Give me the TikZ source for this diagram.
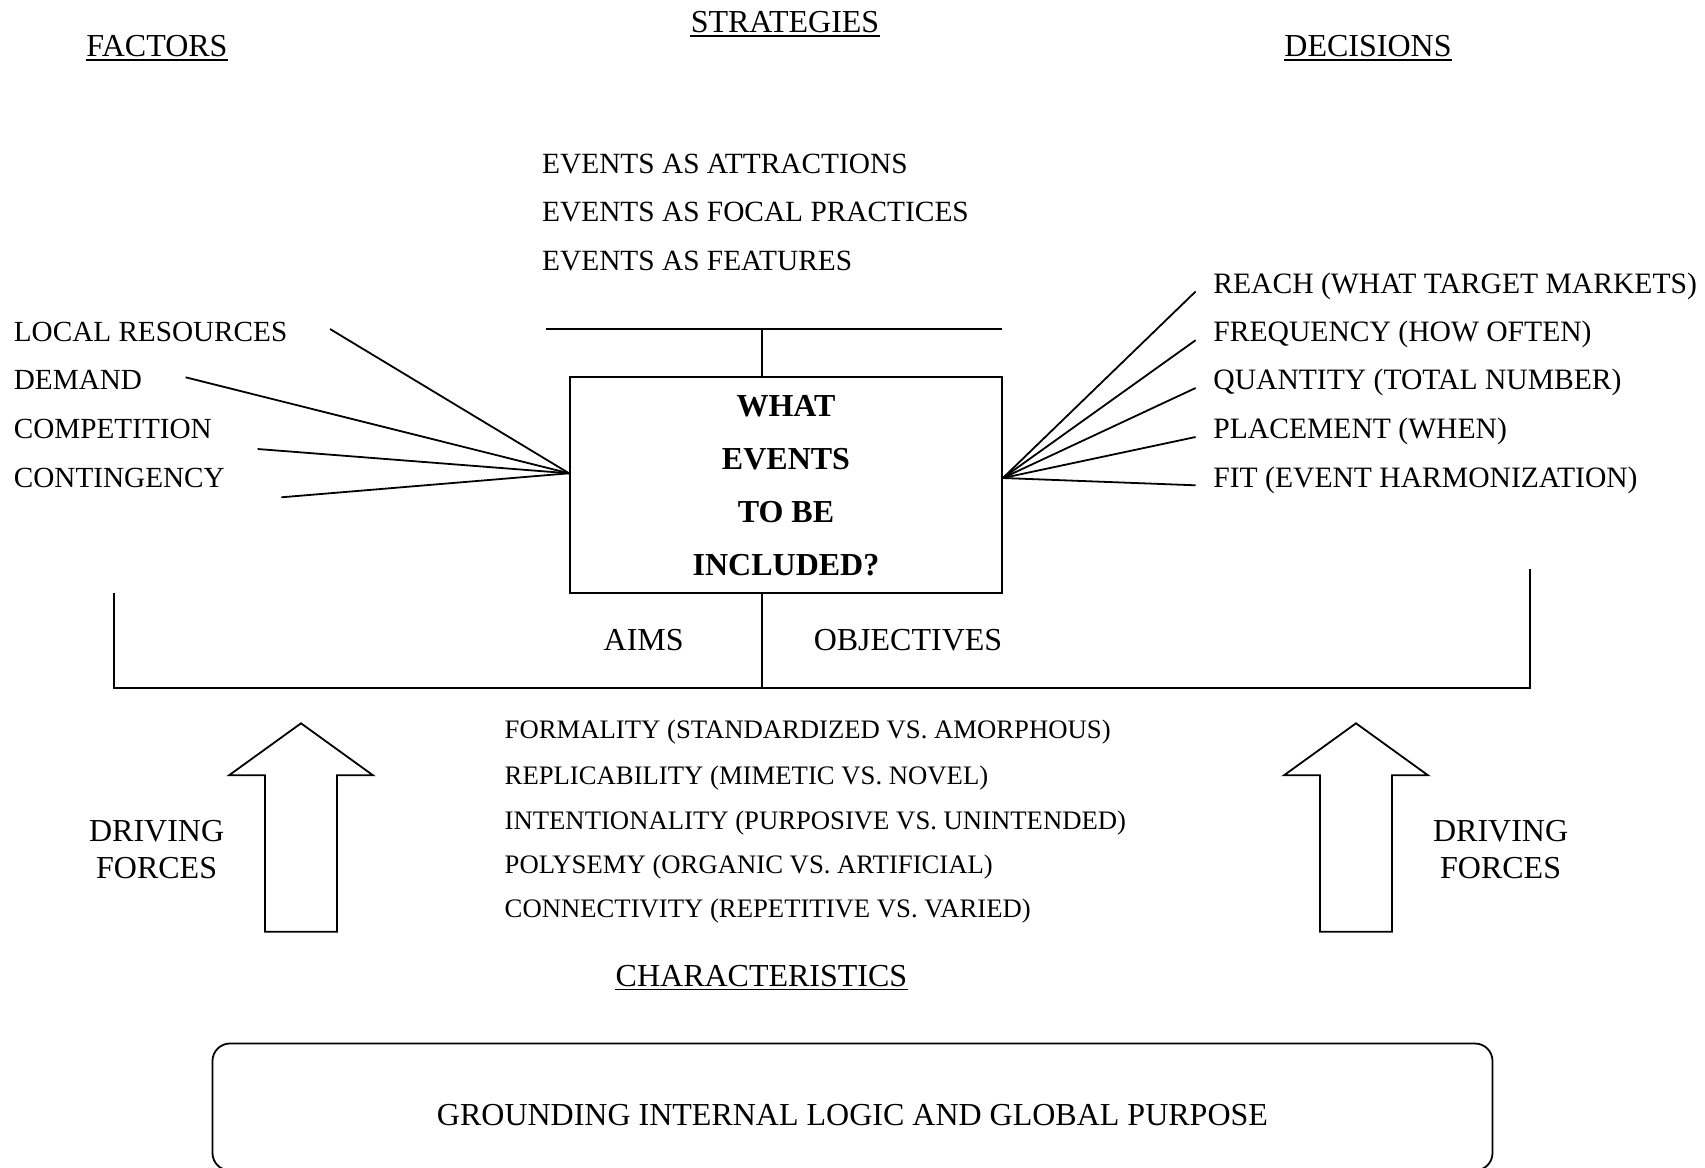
\documentclass[tikz,border=0pt]{standalone}
\usepackage{fontspec}
\setmainfont{Liberation Serif}
\usetikzlibrary{calc}

% underline drawn under a heading node
\newcommand{\headrule}[1]{\draw[rulewidth] ([yshift=-1.8pt]#1.base west) -- ([yshift=-1.8pt]#1.base east);}

\begin{document}
\begin{tikzpicture}[x=0.5pt,y=-0.5pt,line width=0.9pt,line join=miter,
  heading/.style={inner sep=0pt,anchor=base,font=\fontsize{16}{19}\selectfont},
  item/.style={inner sep=0pt,anchor=base west,font=\fontsize{14.6}{17}\selectfont},
  stratitem/.style={item,font=\fontsize{14.68}{17}\selectfont},
  wideitem/.style={item,font=\fontsize{14.8}{17}\selectfont},
  trait/.style={inner sep=0pt,anchor=base west,font=\fontsize{13.35}{16}\selectfont},
  centrebox/.style={draw,minimum width=216pt,minimum height=107.85pt,inner sep=0pt,
    align=center,font=\bfseries\fontsize{16}{26.5}\selectfont},
  groundbox/.style={draw,rounded corners=8.75pt,minimum width=640pt,minimum height=63.5pt,inner sep=0pt},
  rulewidth/.style={line width=0.85pt},
  pics/uparrow/.style={code={
    \draw (0,0) -- (72,52) -- (36,52) -- (36,208.5) -- (-36,208.5) -- (-36,52) -- (-72,52) -- cycle;}}
]
\useasboundingbox (0,0) rectangle (1705,1168);
\fill[white] (0,0) rectangle (1705,1168);

% headings
\node[heading] (factors) at (157,56.4) {FACTORS};
\node[heading] (strategies) at (785,32.3) {STRATEGIES};
\node[heading] (decisions) at (1368,56.4) {DECISIONS};
\headrule{factors}
\headrule{strategies}
\headrule{decisions}

% strategies
\node[stratitem] (s1) at (541.3,173) {EVENTS AS ATTRACTIONS};
\node[stratitem] (s2) at (541.3,221.4) {EVENTS AS FOCAL PRACTICES};
\node[stratitem] (s3) at (541.3,270.7) {EVENTS AS FEATURES};

% central question
\node[centrebox] (box) at (786,485.2) {WHAT\\EVENTS\\TO BE\\INCLUDED?};

\coordinate (sl) at (545.5,329);
\coordinate (sr) at (1002,329);
\coordinate (stem) at (762,329);
\draw (sl) -- (sr);
\draw (stem) -- (stem |- box.north);

% factors
\node[item] (lres) at (13,341.7) {LOCAL RESOURCES};
\node[item] (dem) at (13,389.7) {DEMAND};
\node[item] (comp) at (13,438.7) {COMPETITION};
\node[item] (cont) at (13,487.7) {CONTINGENCY};
\coordinate (lres-end) at (330,329);
\coordinate (dem-end) at (185.6,377.3);
\coordinate (comp-end) at (257.6,449);
\coordinate (cont-end) at (281.3,497.3);
\coordinate (lhub) at ($(box.west)+(0,-11.9)$);
\foreach \c in {lres-end,dem-end,comp-end,cont-end}
  \draw (\c) -- (lhub);

% decisions
\node[wideitem] (reach) at (1212.5,293.7) {REACH (WHAT TARGET MARKETS)};
\node[wideitem] (freq) at (1212.5,341.7) {FREQUENCY (HOW OFTEN)};
\node[wideitem] (quant) at (1212.5,389.7) {QUANTITY (TOTAL NUMBER)};
\node[wideitem] (place) at (1212.5,438.7) {PLACEMENT (WHEN)};
\node[wideitem] (fit) at (1212.5,487.7) {FIT (EVENT HARMONIZATION)};
\coordinate (reach-end) at (1195.6,291.5);
\coordinate (freq-end) at (1195.6,340.2);
\coordinate (quant-end) at (1195.6,388);
\coordinate (place-end) at (1195.6,437);
\coordinate (fit-end) at (1195.6,485.3);
\coordinate (rhub) at ($(box.east)+(0,-7.2)$);
\foreach \c in {reach-end,freq-end,quant-end,place-end,fit-end}
  \draw (rhub) -- (\c);

% aims / objectives bracket
\coordinate (bltop) at (114,592.6);
\coordinate (bl) at (114,688.3);
\coordinate (br) at (1530,688.3);
\coordinate (brtop) at (1530,568.7);
\draw (bltop) -- (bl) -- (br) -- (brtop);
\draw (stem |- box.south) -- (stem |- bl);
\node[heading] (aims) at (643.7,650) {AIMS};
\node[heading] (objectives) at (908,650) {OBJECTIVES};

% driving forces
\pic (leftarrow) at (301,723.3) {uparrow};
\pic (rightarrow) at (1356,723.3) {uparrow};
\node[heading] (ldrive1) at (156.6,841.4) {DRIVING};
\node[heading] (ldrive2) at (156.6,878.3) {FORCES};
\node[heading] (rdrive1) at (1500.6,841.4) {DRIVING};
\node[heading] (rdrive2) at (1500.6,878.3) {FORCES};

% characteristics
\node[trait] (c1) at (503.8,738.8) {FORMALITY (STANDARDIZED VS. AMORPHOUS)};
\node[trait] (c2) at (503.8,784) {REPLICABILITY (MIMETIC VS. NOVEL)};
\node[trait] (c3) at (503.8,829) {INTENTIONALITY (PURPOSIVE VS. UNINTENDED)};
\node[trait] (c4) at (503.8,873.3) {POLYSEMY (ORGANIC VS. ARTIFICIAL)};
\node[trait] (c5) at (503.8,917.8) {CONNECTIVITY (REPETITIVE VS. VARIED)};
\node[heading] (characteristics) at (761.5,986) {CHARACTERISTICS};
\headrule{characteristics}

% grounding
\node[groundbox] (gbox) at (852.5,1107) {};
\node[heading] (glabel) at (852.5,1125.6) {GROUNDING INTERNAL LOGIC AND GLOBAL PURPOSE};
\end{tikzpicture}
\end{document}
